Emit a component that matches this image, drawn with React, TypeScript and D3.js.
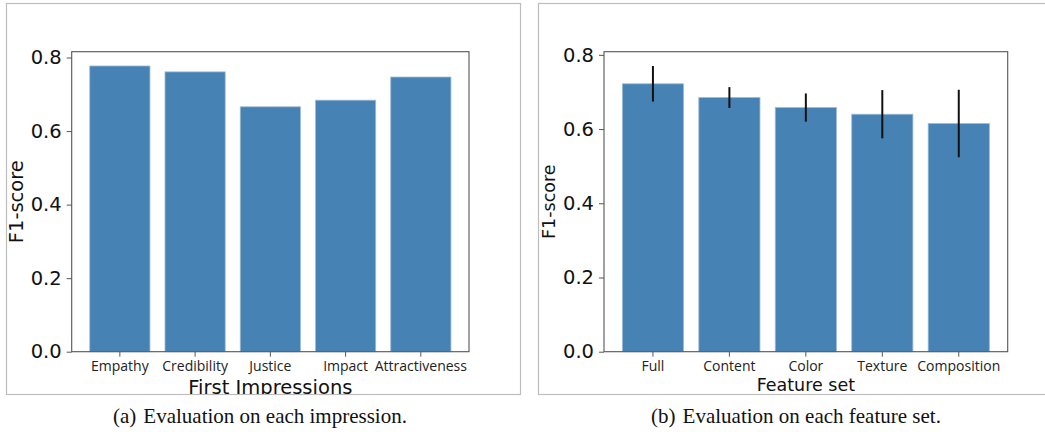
import React, { useEffect, useRef } from 'react'
import * as d3 from 'd3'

// values
const impressionLabels = ['Empathy', 'Credibility', 'Justice', 'Impact', 'Attractiveness']
const impressionScores = [0.777, 0.761, 0.666, 0.684, 0.747]

const featureLabels = ['Full', 'Content', 'Color', 'Texture', 'Composition']
const featureScores = [0.722, 0.685, 0.658, 0.64, 0.615]
const featureErrors = [0.048, 0.028, 0.038, 0.065, 0.091]

const yTicks = [0, 0.2, 0.4, 0.6, 0.8]

const BAR = '#4682b4'
const SANS = 'DejaVu Sans'

type PanelProps = {
    id: string
    frame: { x: number, y: number, w: number, h: number }
    plot: { left: number, right: number, top: number, bottom: number }
    labels: string[]
    scores: number[]
    errors?: number[]
    xTitle: string
    xTitleSize: number
    xTitleY: number
    yTitleSize: number
    caption: string
    tag: string
    captionX: number
}

function Panel(props: PanelProps) {
    const ref = useRef<SVGGElement>(null)

    useEffect(() => {
        const g = d3.select(ref.current)
        g.selectAll('*').remove()
        const { frame, plot, labels, scores, errors } = props

        const clipId = 'clip-' + props.id
        g.append('clipPath').attr('id', clipId)
            .append('rect')
            .attr('x', frame.x).attr('y', frame.y)
            .attr('width', frame.w).attr('height', frame.h)

        g.append('rect')
            .attr('x', frame.x + 0.5).attr('y', frame.y + 0.5)
            .attr('width', frame.w).attr('height', frame.h)
            .attr('fill', 'white').attr('stroke', '#bdbdbd').attr('stroke-width', 1.2)

        const inner = g.append('g').attr('clip-path', `url(#${clipId})`)

        const top = d3.max(scores, (d, i) => d + (errors ? errors[i] : 0)) as number
        const yScale = d3.scaleLinear()
            .domain([0, top * 1.05])
            .range([plot.bottom, plot.top])

        const xScale = d3.scaleBand<string>()
            .domain(labels)
            .range([plot.left, plot.right])
            .paddingInner(0.2)
            .paddingOuter(0.24)

        // bars
        inner.selectAll('rect.bar')
            .data(scores)
            .enter()
            .append('rect')
                .attr('class', 'bar')
                .attr('x', (d, i) => xScale(labels[i]) as number)
                .attr('y', d => yScale(d))
                .attr('width', xScale.bandwidth())
                .attr('height', d => yScale(0) - yScale(d))
                .attr('fill', BAR)
                .attr('stroke', '#9dbbd6')
                .attr('stroke-width', 0.8)

        // error bars
        if (errors) {
            inner.selectAll('line.err')
                .data(scores)
                .enter()
                .append('line')
                    .attr('class', 'err')
                    .attr('x1', (d, i) => (xScale(labels[i]) as number) + xScale.bandwidth() / 2)
                    .attr('x2', (d, i) => (xScale(labels[i]) as number) + xScale.bandwidth() / 2)
                    .attr('y1', (d, i) => yScale(d - errors[i]))
                    .attr('y2', (d, i) => yScale(d + errors[i]))
                    .attr('stroke', '#111')
                    .attr('stroke-width', 2)
        }

        // spines
        inner.append('rect')
            .attr('x', plot.left).attr('y', plot.top)
            .attr('width', plot.right - plot.left).attr('height', plot.bottom - plot.top)
            .attr('fill', 'none').attr('stroke', '#555').attr('stroke-width', 1.1)

        // y axis
        const yAxis = inner.append('g')
            .attr('transform', `translate(${plot.left},0)`)
            .call(d3.axisLeft(yScale).tickValues(yTicks).tickFormat(d3.format('.1f')).tickSize(5).tickPadding(5))
        yAxis.select('.domain').remove()
        yAxis.selectAll('line').attr('stroke', '#555')
        yAxis.selectAll('text')
            .attr('font-family', SANS).attr('font-size', 19.5).attr('fill', '#111')

        // x axis
        const xAxis = inner.append('g')
            .attr('transform', `translate(0,${plot.bottom})`)
            .call(d3.axisBottom(xScale).tickSize(5).tickPadding(4.5))
        xAxis.select('.domain').remove()
        xAxis.selectAll('line').attr('stroke', '#555')
        xAxis.selectAll('text')
            .attr('font-family', 'Open Sans').attr('font-size', 14).attr('fill', '#222')

        // axis titles
        inner.append('text')
            .attr('x', (plot.left + plot.right) / 2)
            .attr('y', props.xTitleY)
            .attr('text-anchor', 'middle')
            .attr('font-family', SANS).attr('font-size', props.xTitleSize).attr('fill', '#111')
            .text(props.xTitle)

        inner.append('text')
            .attr('transform', `translate(${frame.x + 17},${(plot.top + plot.bottom) / 2}) rotate(-90)`)
            .attr('text-anchor', 'middle')
            .attr('font-family', SANS).attr('font-size', props.yTitleSize).attr('fill', '#111')
            .text('F1-score')

        // caption under the frame
        const cap = g.append('text')
            .attr('x', props.captionX).attr('y', 423)
            .attr('text-anchor', 'middle')
            .attr('font-family', 'Liberation Serif').attr('font-size', 21).attr('fill', '#111')
        cap.append('tspan').text(props.tag)
        cap.append('tspan').attr('dx', 7).text(props.caption)
    }, [])

    return <g ref={ref}></g>
}

export default function App() {
    return (
        <div style={{ position: 'absolute', left: 0, top: 0 }}>
            <svg width={1045} height={432} style={{ display: 'block', background: 'white' }}>
                <Panel
                    id="a"
                    frame={{ x: 6, y: 3, w: 514, h: 391 }}
                    plot={{ left: 71.7, right: 469, top: 51.7, bottom: 351.7 }}
                    labels={impressionLabels}
                    scores={impressionScores}
                    xTitle="First Impressions"
                    xTitleSize={19.5}
                    xTitleY={393.5}
                    yTitleSize={19.5}
                    tag="(a)"
                    caption="Evaluation on each impression."
                    captionX={260}
                />
                <Panel
                    id="b"
                    frame={{ x: 538, y: 3, w: 520, h: 391 }}
                    plot={{ left: 604, right: 1007.7, top: 51.7, bottom: 351.7 }}
                    labels={featureLabels}
                    scores={featureScores}
                    errors={featureErrors}
                    xTitle="Feature set"
                    xTitleSize={17.5}
                    xTitleY={390.5}
                    yTitleSize={17.5}
                    tag="(b)"
                    caption="Evaluation on each feature set."
                    captionX={796}
                />
            </svg>
        </div>
    )
}
